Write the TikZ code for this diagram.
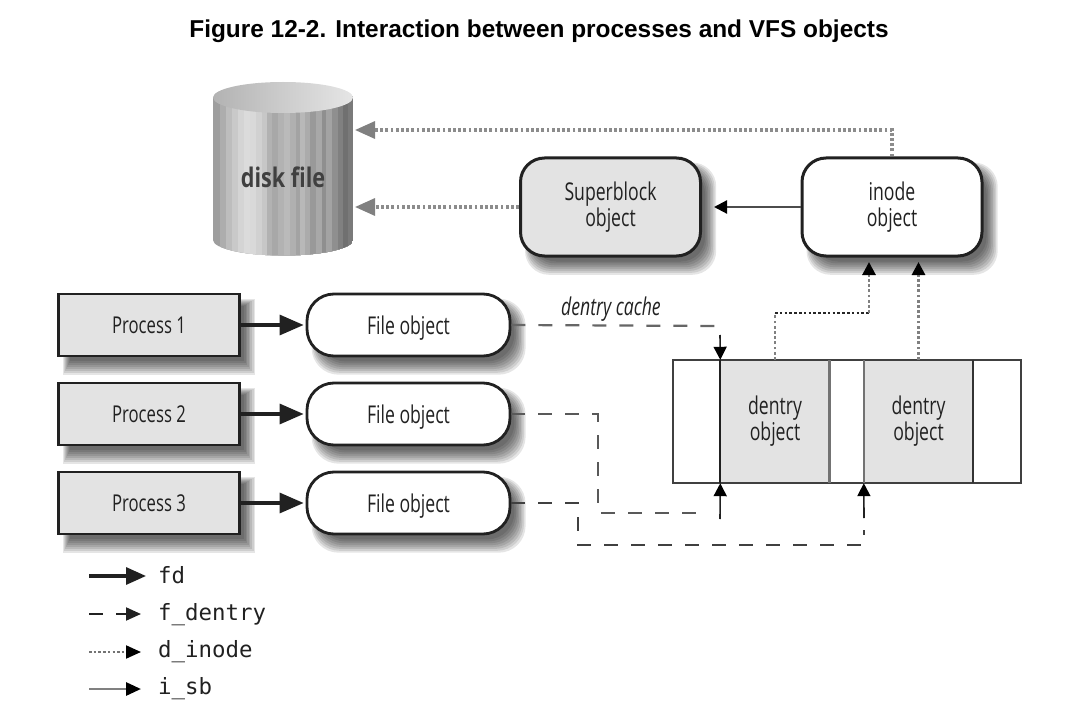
\documentclass[tikz,border=0pt]{standalone}
\usepackage{fontspec}
\setmainfont{Liberation Sans}
\setmonofont{DejaVu Sans Mono}
\newfontfamily\cond[FakeStretch=0.72]{Open Sans}
\newfontfamily\condb[FakeStretch=0.8]{Open Sans}
\usetikzlibrary{arrows.meta,backgrounds}
\definecolor{ink}{gray}{0.13}
\definecolor{cellgray}{gray}{0.89}
\tikzset{
  x=1pt,y=-1pt,
  label text/.style={font=\cond\fontsize{24.5}{26}\selectfont,text=ink,align=center},
  procbox/.style={draw=ink,line width=2.8pt,fill=cellgray,minimum width=181pt,minimum height=62pt,inner sep=0pt,label text,font=\cond\fontsize{23.2}{26}\selectfont},
  fileobj/.style={draw=ink,line width=2.8pt,fill=white,rounded corners=27pt,minimum width=203pt,minimum height=62pt,inner sep=0pt,label text,text depth=0pt},
  bigobj/.style={draw=ink,line width=3pt,rounded corners=24pt,minimum width=180pt,minimum height=98pt,inner sep=0pt,label text},
  cell/.style={fill=cellgray,minimum width=109pt,minimum height=123pt,inner sep=0pt,label text},
  fdarrow/.style={draw=ink,line width=3.2pt,-{Triangle[length=24pt,width=20pt]}},
  smallhead/.style={-{Triangle[length=13pt,width=13pt,color=black]}},
  dentrydash/.style={line width=2.2pt,dash pattern=on 14pt off 13pt},
  dots/.style={line width=3.2pt,dash pattern=on 2.8pt off 2.4pt},
  diskdots/.style={dots,draw=black!45,-{Triangle[length=20pt,width=17pt,color=black!50]}},
  legendtext/.style={font=\ttfamily\fontsize{22.4}{24}\selectfont,text=ink,anchor=base west,inner sep=0pt},
}
\begin{document}
\begin{tikzpicture}
\useasboundingbox (0,0) rectangle (1087,714);

\node[font=\bfseries\fontsize{24.4}{26}\selectfont,text=black] (title) at (539,31) {Figure 12-2. Interaction between processes and VFS objects};

% disk cylinder
\begin{scope}
  \clip (213,97) -- (213,240) arc[start angle=180,end angle=360,x radius=70,y radius=-15.5] -- (353,97) -- cycle;
  \foreach \xs/\g in {213/38,220/32,226/26,232/21,238/17,244/14,250/15,256/18,262/22,267/30,272/34,278/30,284/27,290/31,296/36,300/28,305/33,310/40,316/34,322/44,326/36,332/44,338/50,343/56,348/52}
    \fill[black!\g!white] (\xs,70) rectangle (353,270);
\end{scope}
\shade[left color=black!30,right color=black!10] (283,97.5) ellipse[x radius=70,y radius=15.5];
\node[font=\condb\bfseries\fontsize{27}{28}\selectfont,text=black!75] (disk) at (283,177) {disk file};

% objects
\node[bigobj,fill=cellgray] (sb) at (610.5,207) {Superblock\\object};
\node[bigobj,fill=white] (ino) at (892,207) {inode\\object};
\foreach \n/\y/\t in {1/325/1,2/414/2,3/503/3}{
  \node[procbox] (p\n) at (149,\y) {Process \t};
  \node[fileobj] (f\n) at (408.5,\y) {File object};
}

% dentry cache table
\node[minimum width=348pt,minimum height=123pt,inner sep=0pt] (tbl) at (847,421.5) {};
\node[cell] (d1) at (775,421.5) {dentry\\object};
\node[cell] (d2) at (918.5,421.5) {dentry\\object};
\draw[black!75,line width=1.5pt] (tbl.north west) rectangle (tbl.south east);
\draw[ink,line width=2pt] (d1.north west) -- (d1.south west);
\draw[black!55,line width=3pt] (d1.north east) -- (d1.south east);
\draw[black!55,line width=2.6pt] (d2.north west) -- (d2.south west);
\draw[black!80,line width=2pt] (d2.north east) -- (d2.south east);

\node[font=\cond\itshape\fontsize{24.5}{26}\selectfont,text=ink] (cachelabel) at (611,309) {dentry cache};

% soft shadows
\begin{scope}[on background layer]
  \foreach \n/\r in {p1/0,p2/0,p3/0,f1/27,f2/27,f3/27,sb/24,ino/24}
    \foreach \i in {0,...,7}
      \fill[black,opacity=0.1,rounded corners=\r pt]
        ([shift={(13-\i,13-\i)}]\n.north west) rectangle ([shift={(3+1.6*\i,4+1.9*\i)}]\n.south east);
\end{scope}

% fd arrows
\foreach \n in {1,2,3}
  \draw[fdarrow] (p\n.east) -- ([xshift=-2pt]f\n.west);

% i_sb arrow
\coordinate (sbhead) at ([xshift=12pt]sb.east);
\draw[black!70,line width=2.2pt,smallhead] (ino.west) -- (sbhead);

% dotted to disk
\coordinate (diskTop) at (355,130);
\coordinate (diskMid) at (355,207);
\coordinate (inoUp) at (892,130);
\draw[diskdots] (ino.north) -- (inoUp) -- (diskTop);
\draw[diskdots] (sb.west) -- (diskMid);

% d_inode
\coordinate (a1) at (775,313);
\coordinate (a2) at (869,313);
\coordinate (b2) at (869,262);
\coordinate (b3) at (918.5,262);
\draw[black!50,dots,line width=2.8pt] (d1.north) -- (a1);
\draw[black!85,line width=2pt,dash pattern=on 2.6pt off 2.2pt] (a1) -- (a2);
\draw[black!50,dots,line width=2.8pt,smallhead] (a2) -- (b2);
\draw[black!50,dots,line width=2.8pt,smallhead] (d2.north) -- (b3);

% f_dentry 1
\coordinate (e1) at (719,326);
\coordinate (s1) at (720,335);
\draw[black!60,dentrydash] (f1.east) -- (e1);
\draw[ink,line width=1.6pt,smallhead] (s1) -- (d1.north west);

% f_dentry 2
\coordinate (c2a) at (598,414);
\coordinate (c2b) at (598,513);
\coordinate (c2c) at (709,513);
\coordinate (s2) at (720,519);
\draw[black!65,dentrydash] (f2.east) -- (c2a) -- (c2b) -- (c2c);
\draw[ink,line width=1.6pt,smallhead] (s2) -- (d1.south west);

% f_dentry 3
\coordinate (c3a) at (578,503);
\coordinate (c3b) at (578,545);
\coordinate (c3c) at (864,545);
\coordinate (c3d) at (864,530);
\coordinate (s3) at (864,518);
\draw[black!75,dentrydash] (f3.east) -- (c3a) -- (c3b) -- (c3c) -- (c3d);
\draw[ink,line width=1.6pt,smallhead] (s3) -- (d2.south west);

% legend
\foreach \k/\y/\t in {a/583/fd,b/620/f\_dentry,c/657/d\_inode,d/694/i\_sb}
  \node[legendtext] (t\k) at (158,\y) {\t};
\coordinate (la) at (89,576);
\coordinate (lb) at (89,614);
\coordinate (lc) at (89,652);
\coordinate (ld) at (89,689);
\coordinate (ha) at (146,576);
\coordinate (hb) at (141,614);
\coordinate (hc) at (141,652);
\coordinate (hd) at (141,689);
\draw[ink,line width=3.2pt,-{Triangle[length=20pt,width=17pt]}] (la) -- (ha);
\draw[ink,line width=2pt,dash pattern=on 14pt off 13pt,-{Triangle[length=15pt,width=13pt]}] (lb) -- (hb);
\draw[black!55,line width=2pt,dash pattern=on 2.5pt off 2.2pt,-{Triangle[length=15pt,width=13pt,color=black]}] (lc) -- (hc);
\draw[black!50,line width=2.8pt,-{Triangle[length=15pt,width=13pt,color=black]}] (ld) -- (hd);
\end{tikzpicture}
\end{document}
